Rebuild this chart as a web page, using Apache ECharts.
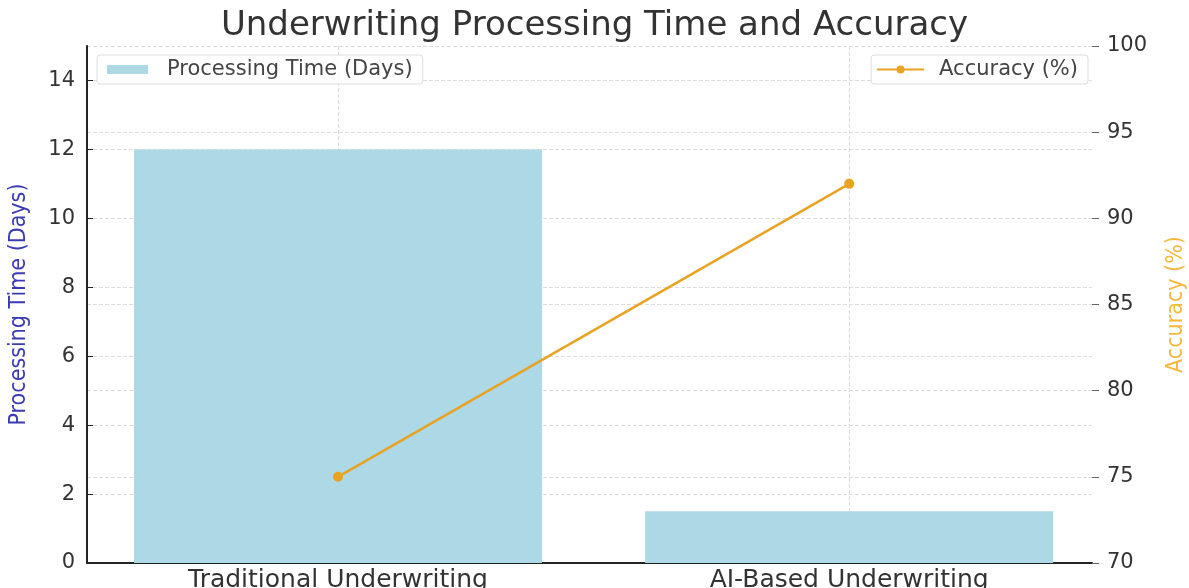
<!DOCTYPE html>
<html>
<head>
<meta charset="utf-8">
<script src="https://cdn.jsdelivr.net/npm/echarts@6/dist/echarts.min.js"></script>
<style>
  html, body { margin: 0; padding: 0; background: #fff; }
  #chart { width: 1189px; height: 588px; }
</style>
</head>
<body>
<div id="chart"></div>
<script>
// Underwriting approaches compared on time and accuracy
const categories = ['Traditional Underwriting', 'AI-Based Underwriting'];
const processingDays = [12, 1.5];
const accuracyPct = [75, 92];
const leftTicks = [0, 2, 4, 6, 8, 10, 12, 14];
const rightTicks = [70, 75, 80, 85, 90, 95, 100];

const FONT = '"DejaVu Sans", sans-serif';
const NARROW = '"DejaVu Sans Condensed", "Liberation Sans Narrow", sans-serif';
const GRID_LINE = { show: true, lineStyle: { color: '#dcdcdc', width: 1, type: [4, 2] } };
const catIdx = categories.map((_, i) => i);

const chart = echarts.init(document.getElementById('chart'), null, { renderer: 'canvas' });

chart.setOption({
  animation: false,
  backgroundColor: '#ffffff',
  textStyle: { fontFamily: FONT },
  title: {
    text: 'Underwriting Processing Time and Accuracy',
    left: 'center',
    top: 4,
    textStyle: { fontFamily: FONT, fontSize: 34, fontWeight: 'normal', color: '#333333' }
  },
  legend: [
    {
      data: ['Processing Time (Days)'],
      left: 97, top: 55,
      padding: [4, 10, 4, 10],
      icon: 'rect',
      itemWidth: 41, itemHeight: 9,
      backgroundColor: 'rgba(255,255,255,0.85)',
      borderColor: '#dddddd', borderWidth: 1, borderRadius: 3,
      textStyle: { fontFamily: FONT, fontSize: 21, color: '#444444', padding: [0, 0, 0, 14] }
    },
    {
      data: ['Accuracy (%)'],
      right: 101, top: 55,
      padding: [4, 10, 4, 5],
      itemWidth: 47, itemHeight: 10,
      backgroundColor: 'rgba(255,255,255,0.85)',
      borderColor: '#dddddd', borderWidth: 1, borderRadius: 3,
      textStyle: { fontFamily: FONT, fontSize: 21, color: '#444444', padding: [0, 0, 0, 10] }
    }
  ],
  grid: { left: 87, right: 97, top: 46, bottom: 25, containLabel: false, outerBoundsMode: 'none' },
  xAxis: {
    type: 'value',
    min: -0.491,
    max: 1.475,
    axisLine: { show: true, onZero: false, lineStyle: { color: '#222222', width: 2 } },
    axisTick: { show: true, inside: true, length: 6, customValues: catIdx, lineStyle: { color: '#222222' } },
    axisLabel: {
      customValues: catIdx,
      formatter: v => categories[Math.round(v)],
      fontFamily: FONT, fontSize: 25, color: '#333333', margin: 5
    },
    splitLine: GRID_LINE
  },
  yAxis: [
    {
      type: 'value',
      min: 0, max: 15, interval: 2,
      name: 'Processing Time (Days)',
      nameLocation: 'middle',
      nameGap: 56,
      nameTextStyle: { fontFamily: NARROW, fontSize: 23, color: '#3b3bb5' },
      axisLine: { show: true, onZero: false, lineStyle: { color: '#222222', width: 2 } },
      axisTick: { show: true, inside: true, length: 6, lineStyle: { color: '#222222' } },
      axisLabel: {
        showMaxLabel: false,
        fontFamily: FONT, fontSize: 21, color: '#333333', margin: 12
      },
      splitLine: GRID_LINE
    },
    {
      type: 'value',
      min: 70, max: 100, interval: 5,
      position: 'right',
      name: 'Accuracy (%)',
      nameLocation: 'middle',
      nameGap: 73,
      nameRotate: 90,
      nameTextStyle: { fontFamily: NARROW, fontSize: 23, color: '#f2b93d' },
      axisLine: { show: false, onZero: false },
      axisTick: { show: true, length: 7, lineStyle: { color: '#666666' } },
      axisLabel: { fontFamily: FONT, fontSize: 21, color: '#333333', margin: 15 },
      splitLine: GRID_LINE
    }
  ],
  series: [
    {
      name: 'Processing Time (Days)',
      type: 'bar',
      yAxisIndex: 0,
      barWidth: 408,
      itemStyle: { color: '#add8e6' },
      data: processingDays.map((v, i) => [i, v]),
      z: 1
    },
    {
      name: 'Accuracy (%)',
      type: 'line',
      yAxisIndex: 1,
      symbol: 'circle',
      symbolSize: 10,
      lineStyle: { color: '#e8a323', width: 2.5 },
      itemStyle: { color: '#e8a323' },
      data: accuracyPct.map((v, i) => [i, v]),
      z: 5
    }
  ]
});
</script>
</body>
</html>
